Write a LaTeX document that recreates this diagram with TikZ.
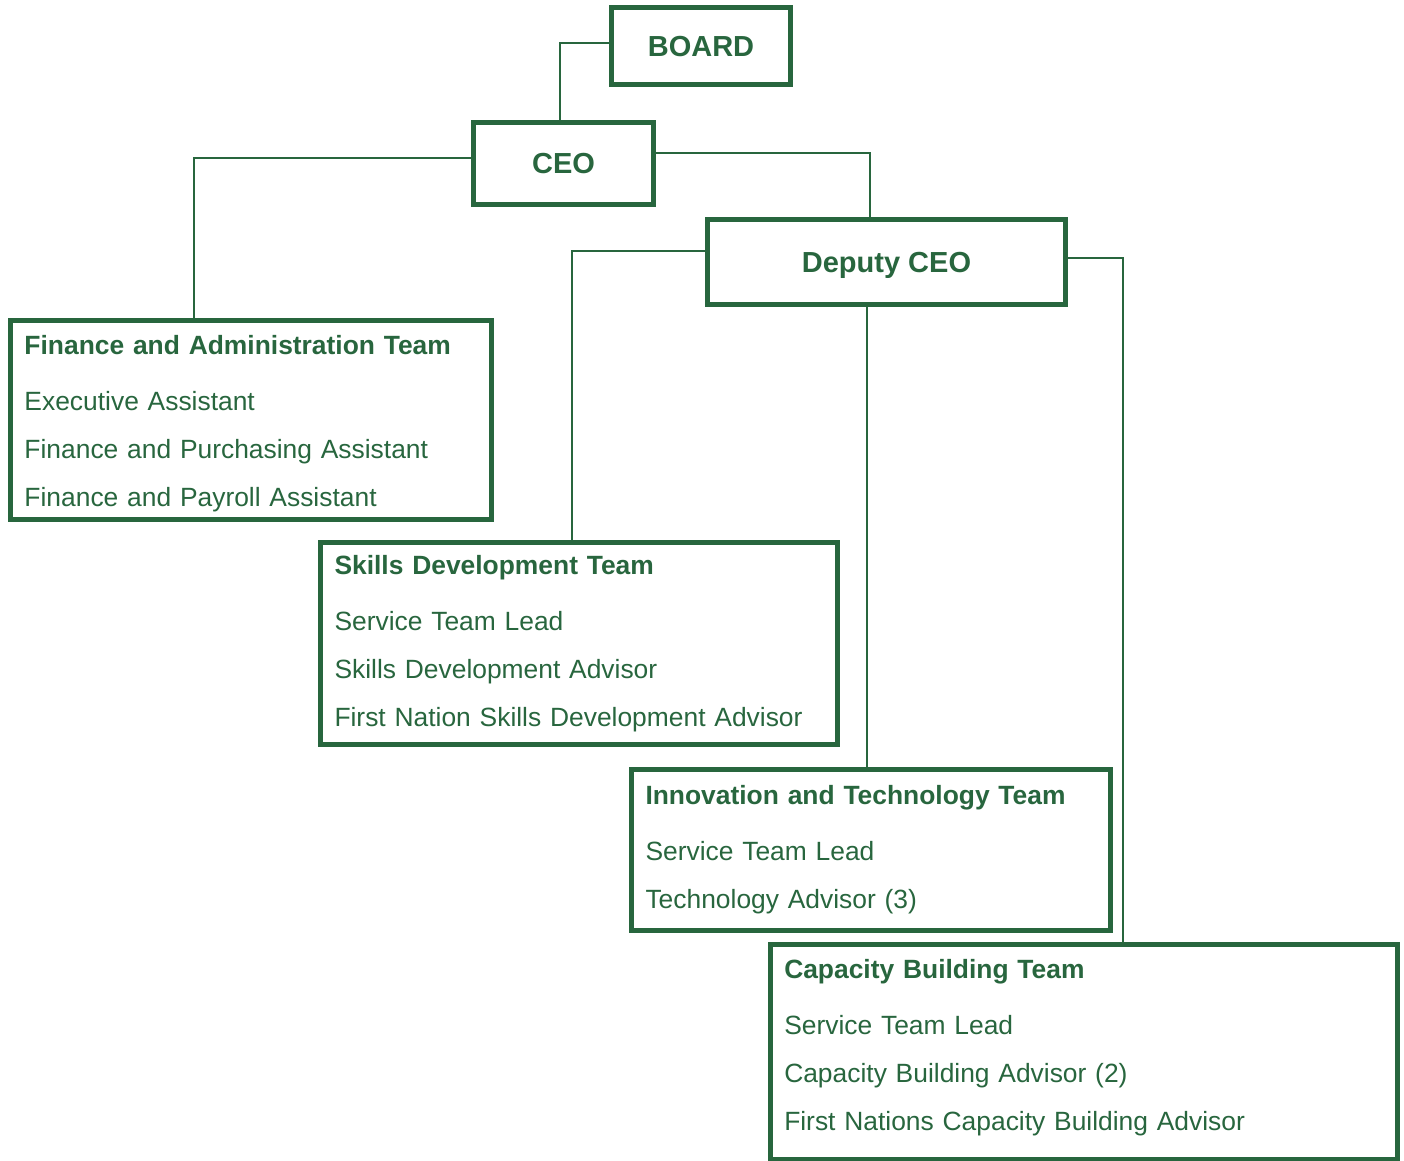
\documentclass[tikz,border=0pt]{standalone}
\usepackage{fontspec}
\setmainfont{Liberation Sans}
\usepackage{xcolor}
\definecolor{OrgGreen}{RGB}{40,102,62}
\usetikzlibrary{calc}

\begin{document}
\begin{tikzpicture}[
      x=0.5pt, y=-0.5pt
      , head/.style={draw=OrgGreen, line width=2.5pt, text=OrgGreen, inner sep=0pt, text depth=0pt, font=\fontsize{14.5}{17}\selectfont\bfseries}
      , team/.style={draw=OrgGreen, line width=2.5pt, text=OrgGreen, align=left, inner xsep=7pt, inner ysep=0pt, font=\fontsize{13.2}{24}\selectfont}
      , link/.style={draw=OrgGreen, line width=1pt}
      ]

      \useasboundingbox (0,0) rectangle (1404,1161);

      % top of the chart
      \node[head, minimum width=89.5pt, minimum height=38.5pt] (board) at (701,46) {BOARD};
      \node[head, minimum width=90pt, minimum height=41pt] (ceo) at (563.5,163.5) {CEO};
      \node[head, minimum width=179pt, minimum height=42.5pt] (deputy) at (886.5,262) {Deputy CEO};

      % teams
      \node[team, text width=226.5pt, minimum height=99.5pt] (finance) at (251,420)
        {\rule{0pt}{13.6pt}\textbf{Finance and Administration Team}\\[4pt]
         Executive Assistant\\
         Finance and Purchasing Assistant\\
         Finance and Payroll Assistant};
      \node[team, text width=244.5pt, minimum height=101pt] (skills) at (579,643.5)
        {\textbf{Skills Development Team}\\[4pt]
         Service Team Lead\\
         Skills Development Advisor\\
         First Nation Skills Development Advisor};
      \node[team, text width=225.5pt, minimum height=80.5pt] (innovation) at (871,850)
        {\textbf{Innovation and Technology Team}\\[4pt]
         Service Team Lead\\
         Technology Advisor (3)};
      \node[team, text width=299.75pt, minimum height=107.75pt] (capacity) at (1084,1052)
        {\textbf{Capacity Building Team}\\[4pt]
         Service Team Lead\\
         Capacity Building Advisor (2)\\
         First Nations Capacity Building Advisor\rule[-6.8pt]{0pt}{0pt}};

      % reporting lines
      \draw[link] ($(board.west)+(0,-3)$) -| ($(ceo.north)+(-3.5,0)$);
      \draw[link] ($(ceo.west)+(0,-5.5)$) -| ($(finance.north)+(-57,0)$);
      \draw[link] ($(ceo.east)+(0,-10)$) -| ($(deputy.north)+(-16.5,0)$);
      \draw[link] ($(deputy.west)+(0,-11)$) -| ($(skills.north)+(-7.5,0)$);
      \draw[link] ($(deputy.south)+(-19.5,0)$) -- ($(innovation.north)+(-4,0)$);
      \draw[link] ($(deputy.east)+(0,-4)$) -| ($(capacity.north)+(38.5,0)$);
    \end{tikzpicture}
\end{document}
